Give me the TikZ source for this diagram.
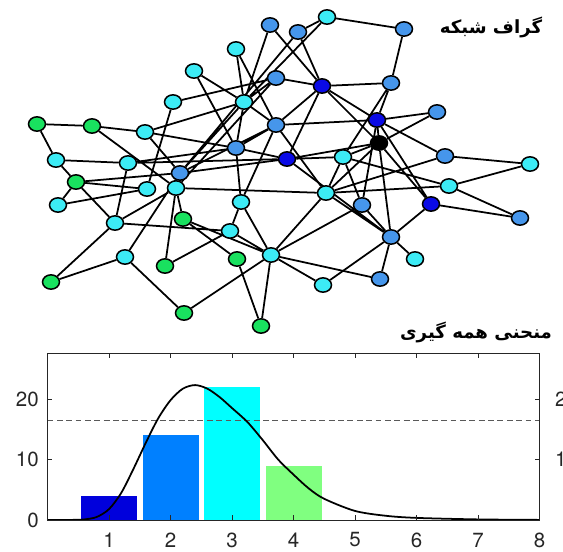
\documentclass[tikz,border=0pt]{standalone}
\usepackage{fontspec}
\setmainfont{TeX Gyre Heros}
\newfontfamily\arabicfont[Script=Arabic]{DejaVu Sans}
\TeXXeTstate=1
\usetikzlibrary{shapes.geometric,backgrounds}

\definecolor{vcyan}{RGB}{60,235,245}
\definecolor{vblue}{RGB}{70,150,235}
\definecolor{vnavy}{RGB}{10,10,230}
\definecolor{vgreen}{RGB}{25,225,95}
\definecolor{barA}{RGB}{0,0,220}
\definecolor{barB}{RGB}{0,128,255}
\definecolor{barC}{RGB}{0,255,255}
\definecolor{barD}{RGB}{128,255,128}

\tikzset{
  vertex/.style={ellipse, draw=black, line width=1.3pt,
    minimum width=0.51cm, minimum height=0.43cm, inner sep=0pt},
  cyanv/.style={vertex, fill=vcyan},
  bluev/.style={vertex, fill=vblue},
  navyv/.style={vertex, fill=vnavy},
  greenv/.style={vertex, fill=vgreen},
  blackv/.style={vertex, fill=black},
  link/.style={line width=1.5pt, black},
  ticklabel/.style={font=\fontsize{17.5}{19}\selectfont, text=black!85},
  fatitle/.style={font=\arabicfont\bfseries\fontsize{15.5}{18}\selectfont}
}

\begin{document}
\begin{tikzpicture}[x=0.03cm, y=-0.03cm]
\useasboundingbox (0,0) rectangle (563,551);

% ── Network graph: vertices ─────────────────────────────────────
\node[bluev]  (v1)  at (270,25)  {};
\node[bluev]  (v2)  at (298,32)  {};
\node[cyanv]  (v3)  at (327,17)  {};
\node[bluev]  (v4)  at (404,29)  {};
\node[cyanv]  (v5)  at (236,49)  {};
\node[cyanv]  (v6)  at (194,71)  {};
\node[bluev]  (v7)  at (276,78)  {};
\node[navyv]  (v8)  at (322,86)  {};
\node[bluev]  (v9)  at (391,83)  {};
\node[cyanv]  (v10) at (173,102) {};
\node[cyanv]  (v11) at (244,102) {};
\node[bluev]  (v12) at (276,125) {};
\node[cyanv]  (v13) at (145,132) {};
\node[bluev]  (v14) at (236,148) {};
\node[cyanv]  (v15) at (56,160)  {};
\node[cyanv]  (v16) at (128,163) {};
\node[navyv]  (v17) at (377,120) {};
\node[bluev]  (v18) at (437,112) {};
\node[blackv] (v19) at (379,143) {};
\node[cyanv]  (v20) at (343,157) {};
\node[navyv]  (v21) at (287,159) {};
\node[bluev]  (v22) at (445,156) {};
\node[cyanv]  (v23) at (530,164) {};
\node[cyanv]  (v24) at (326,193) {};
\node[cyanv]  (v25) at (449,186) {};
\node[bluev]  (v26) at (362,205) {};
\node[navyv]  (v27) at (431,204) {};
\node[bluev]  (v28) at (520,218) {};
\node[bluev]  (v29) at (391,237) {};
\node[bluev]  (v30) at (180,173) {};
\node[cyanv]  (v31) at (147,189) {};
\node[cyanv]  (v32) at (176,188) {};
\node[cyanv]  (v33) at (241,202) {};
\node[greenv] (v34) at (183,219) {};
\node[cyanv]  (v35) at (230,231) {};
\node[cyanv]  (v36) at (58,205)  {};
\node[cyanv]  (v37) at (115,223) {};
\node[cyanv]  (v38) at (125,257) {};
\node[greenv] (v39) at (165,266) {};
\node[greenv] (v40) at (237,259) {};
\node[cyanv]  (v41) at (271,255) {};
\node[greenv] (v42) at (51,282)  {};
\node[greenv] (v43) at (184,313) {};
\node[greenv] (v44) at (261,326) {};
\node[cyanv]  (v45) at (415,259) {};
\node[cyanv]  (v46) at (323,285) {};
\node[bluev]  (v47) at (380,279) {};
\node[greenv] (v48) at (37,124)  {};
\node[greenv] (v49) at (92,126)  {};
\node[greenv] (v50) at (76,182)  {};

% ── Network graph: links (behind the vertices) ─────────────────
\begin{scope}[on background layer]
% upper part
\draw[link]
  (v3)--(v4)  (v3)--(v2)  (v4)--(v9)  (v9)--(v8)
  (v1)--(v11) (v1)--(v8)  (v2)--(v8)  (v2)--(v30)
  (v3)--(v11) (v5)--(v11) (v5)--(v12) (v6)--(v11)
  (v6)--(v14) (v10)--(v7) (v10)--(v31) (v7)--(v8)
  (v7)--(v11) (v7)--(v32) (v11)--(v12) (v11)--(v13)
  (v11)--(v14) (v11)--(v30) (v12)--(v14) (v12)--(v17)
  (v12)--(v8) (v12)--(v30) (v12)--(v24) (v12)--(v33);
% left part
\draw[link]
  (v48)--(v49) (v48)--(v15) (v49)--(v13) (v49)--(v32)
  (v15)--(v16) (v15)--(v50) (v13)--(v14) (v13)--(v30)
  (v16)--(v14) (v16)--(v37) (v16)--(v21)
  (v50)--(v36) (v50)--(v37) (v50)--(v31) (v50)--(v30)
  (v36)--(v31) (v37)--(v32) (v37)--(v42) (v37)--(v35)
  (v38)--(v42) (v38)--(v43) (v38)--(v30)
  (v39)--(v32) (v39)--(v35) (v32)--(v34) (v32)--(v24)
  (v34)--(v41) (v34)--(v40) (v35)--(v33) (v35)--(v41)
  (v33)--(v14) (v33)--(v41) (v40)--(v44) (v41)--(v44)
  (v43)--(v41) (v41)--(v46) (v41)--(v47) (v41)--(v24)
  (v41)--(v26);
% right part
\draw[link]
  (v14)--(v21) (v21)--(v20) (v21)--(v8)  (v21)--(v30)
  (v21)--(v19) (v21)--(v29) (v9)--(v17)  (v9)--(v20)
  (v8)--(v17)  (v8)--(v19)  (v17)--(v18) (v17)--(v19)
  (v17)--(v22) (v17)--(v27) (v17)--(v26) (v18)--(v19)
  (v19)--(v20) (v19)--(v29) (v19)--(v27) (v19)--(v24)
  (v20)--(v25) (v20)--(v26) (v20)--(v24) (v22)--(v23)
  (v22)--(v24) (v23)--(v25) (v24)--(v25) (v24)--(v29)
  (v25)--(v28) (v27)--(v28) (v27)--(v29) (v26)--(v29)
  (v29)--(v45) (v29)--(v47) (v29)--(v46);
\end{scope}

\node[fatitle] (graphtitle) at (491,27) {\beginR گراف شبکه\endR};
\node[fatitle] (curvetitle) at (476,332) {\beginR منحنی همه گیری\endR};

% ── Bar chart with the fitted curve ────────────────────────────
% data (0,0) sits at pixel (47.5,520); 1 unit = 61.5px across, 6.05px up
\begin{scope}[shift={(47.5,520)}, x=1.845cm, y=0.1815cm]
\fill[barA] (0.55,0) rectangle (1.46,4);
\fill[barB] (1.55,0) rectangle (2.46,14);
\fill[barC] (2.55,0) rectangle (3.46,22);
\fill[barD] (3.55,0) rectangle (4.46,9);

\draw[black!65, line width=0.6pt, dash pattern=on 5pt off 3pt]
  (0,16.4)--(8,16.4);

\draw[line width=1.5pt, black] plot[smooth] coordinates {
  (0,0) (0.4,0.02) (0.6,0.1) (0.8,0.5) (1.0,1.8) (1.2,4.5) (1.4,8.5)
  (1.6,12.8) (1.8,16.8) (2.0,19.8) (2.2,21.7) (2.4,22.3) (2.6,21.7)
  (2.8,20.3) (3.0,18.5) (3.25,16.2) (3.5,13.2) (3.75,10.0) (4.0,7.5)
  (4.25,5.2) (4.5,3.5) (5.0,1.5) (5.5,0.7) (6.0,0.35) (7.0,0.1) (8.0,0.02)};

% axes box and ticks
\draw[black!85, line width=0.6pt] (0,0) rectangle (8,27.5);
\foreach \k in {1,...,8}
  \draw[black!85, line width=0.6pt] (\k,0)--++(0,0.8) (\k,27.5)--++(0,-0.8);
\foreach \v in {0,10,20}
  \draw[black!85, line width=0.6pt] (0,\v)--++(0.08,0) (8,\v)--++(-0.08,0);

\foreach \k in {1,...,8}
  \node[ticklabel] (xl\k) at (\k,-3.3) {\k};
\foreach \v in {0,10,20}
  \node[ticklabel, anchor=east, inner sep=0pt] (yl\v) at (-0.14,\v) {\v};

% right-hand labels, cut by the page edge
\node[ticklabel, anchor=west, inner sep=0pt] (yr20) at (8.25,20) {20};
\node[ticklabel, anchor=west, inner sep=0pt] (yr10) at (8.25,10) {10};
\end{scope}

\end{tikzpicture}
\end{document}
